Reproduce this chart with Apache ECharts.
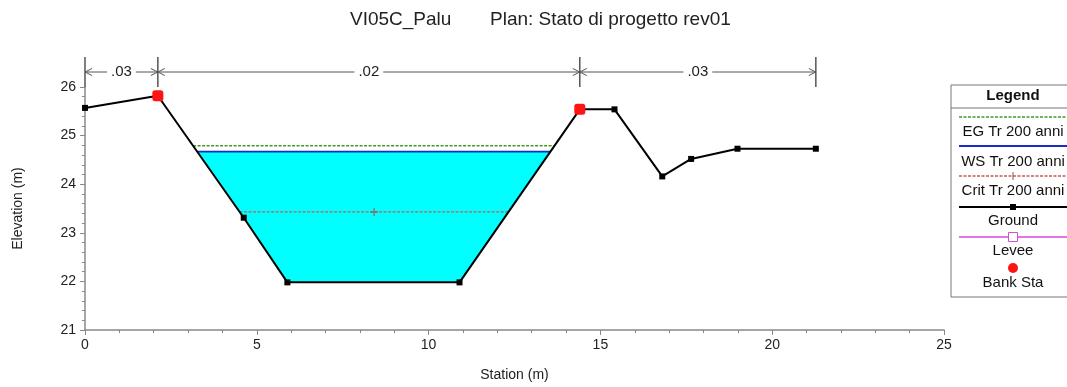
<!DOCTYPE html>
<html><head><meta charset="utf-8">
<script src="https://cdn.jsdelivr.net/npm/echarts@6.0.0/dist/echarts.min.js"></script>
<style>html,body{margin:0;padding:0;background:#fff}#c{width:1067px;height:387px}</style>
</head><body><div id="c"></div>
<script>
// ---- data ----
const groundStation = [0, 2.12, 4.62, 5.89, 10.90, 14.40, 15.41, 16.80, 17.64, 18.99, 21.27];
const groundElev    = [25.57, 25.82, 23.31, 21.98, 21.98, 25.54, 25.54, 24.16, 24.52, 24.73, 24.73];
const bankStation = [2.12, 14.40];
const bankElev    = [25.82, 25.54];
const wsElev = 24.67;
const egElev = 24.79;
const critElev = 23.43;
const nBreaks = [0, 2.12, 14.40, 21.27];
const nValues = ['.03', '.02', '.03'];
const legendTitle = 'Legend';
const legendItems = ['EG Tr 200 anni', 'WS Tr 200 anni', 'Crit Tr 200 anni', 'Ground', 'Levee', 'Bank Sta'];
const titleMain = 'VI05C_Palu';
const titlePlan = 'Plan: Stato di progetto rev01';
const xName = 'Station (m)';
const yName = 'Elevation (m)';

// ---- helpers ----
function crossings(level) {
  const out = [];
  for (let i = 0; i < groundStation.length - 1; i++) {
    const x0 = groundStation[i], y0 = groundElev[i], x1 = groundStation[i + 1], y1 = groundElev[i + 1];
    if ((y0 - level) * (y1 - level) < 0) {
      const x = x0 + (level - y0) / (y1 - y0) * (x1 - x0);
      if (x >= bankStation[0] && x <= bankStation[1]) out.push(x);
    }
  }
  return [out[0], out[out.length - 1]];
}
const ws = crossings(wsElev), eg = crossings(egElev), cr = crossings(critElev);
const waterPoly = [[ws[0], wsElev], [ws[1], wsElev]];
for (let i = groundStation.length - 1; i >= 0; i--) {
  if (groundStation[i] > ws[0] && groundStation[i] < ws[1]) waterPoly.push([groundStation[i], groundElev[i]]);
}
const FONT = '"Liberation Sans", Arial, sans-serif';
const plusPath = 'path://M3.5,0h1v8h-1z M0,3.5h8v1h-8z';
const EGC = '#3f9a2a', WSC = '#1a2cc8', CRC = '#c85a5a';

const chart = echarts.init(document.getElementById('c'), null, { renderer: 'canvas' });
chart.setOption({
  animation: false,
  backgroundColor: '#fff',
  textStyle: { fontFamily: FONT },
  grid: { left: 85, right: 123, top: 87, bottom: 55, containLabel: false },
  xAxis: {
    type: 'value', min: 0, max: 25, interval: 5,
    name: xName, nameLocation: 'middle', nameGap: 38,
    nameTextStyle: { fontSize: 14, color: '#222', fontFamily: FONT },
    axisLine: { lineStyle: { color: '#888', width: 1.5 } },
    axisTick: { length: 5, lineStyle: { color: '#888' } },
    minorTick: { show: true, splitNumber: 5, length: 3, lineStyle: { color: '#888' } },
    axisLabel: { fontSize: 14, color: '#222', margin: 8, fontFamily: FONT },
    splitLine: { show: false }
  },
  yAxis: {
    type: 'value', min: 21, max: 26, interval: 1,
    name: yName, nameLocation: 'middle', nameGap: 60,
    nameTextStyle: { fontSize: 14, color: '#222', fontFamily: FONT },
    axisLine: { show: true, lineStyle: { color: '#888', width: 1.5 } },
    axisTick: { show: true, length: 5, lineStyle: { color: '#888' } },
    minorTick: { show: true, splitNumber: 5, length: 3, lineStyle: { color: '#888' } },
    axisLabel: { fontSize: 14, color: '#222', margin: 9, fontFamily: FONT },
    splitLine: { show: false }
  },
  series: [
    {
      type: 'custom', name: 'water', z: 1, clip: false,
      data: [[ws[0], wsElev]],
      renderItem: function (params, api) {
        const pts = waterPoly.map(p => api.coord(p));
        return { type: 'polygon', shape: { points: pts }, style: { fill: '#00ffff', stroke: null } };
      }
    },
    {
      type: 'line', name: 'EG', z: 3, symbol: 'none',
      data: [[eg[0], egElev], [eg[1], egElev]],
      lineStyle: { color: EGC, width: 1.6, type: [3, 1.5] }
    },
    {
      type: 'line', name: 'WS', z: 3, symbol: 'none',
      data: [[ws[0], wsElev], [ws[1], wsElev]],
      lineStyle: { color: WSC, width: 1.8 }
    },
    {
      type: 'line', name: 'Crit', z: 3, symbol: 'none',
      data: [[cr[0], critElev], { value: [(cr[0] + cr[1]) / 2, critElev], symbol: plusPath, symbolSize: 8 }, [cr[1], critElev]],
      itemStyle: { color: '#a05050', opacity: 1 },
      lineStyle: { color: CRC, width: 1.4, type: [3, 1.5] }
    },
    {
      type: 'line', name: 'Ground', z: 4, symbol: 'rect', symbolSize: 6, showAllSymbol: true,
      data: groundStation.map((s, i) => [s, groundElev[i]]),
      itemStyle: { color: '#000', opacity: 1 },
      lineStyle: { color: '#000', width: 2 }
    },
    {
      type: 'scatter', name: 'Bank Sta', z: 5, symbol: 'roundRect', symbolSize: 11,
      data: bankStation.map((s, i) => [s, bankElev[i]]),
      itemStyle: { color: '#ff1414', opacity: 1 }
    }
  ]
});

// ---- graphics: title, Manning's n annotations, legend ----
const g = [];
g.push({ type: 'text', left: 350, top: 10, style: { text: titleMain, font: '19px ' + FONT, fill: '#222' } });
g.push({ type: 'text', left: 490, top: 10, style: { text: titlePlan, font: '19px ' + FONT, fill: '#222' } });

const topPx = chart.convertToPixel({ gridIndex: 0 }, [0, 26])[1];
const ay = topPx - 15;
const aCol = '#555';
function seg(x1, y1, x2, y2, w) {
  g.push({ type: 'line', shape: { x1, y1, x2, y2 }, style: { stroke: aCol, lineWidth: w || 1 }, z: 10 });
}
nBreaks.forEach(b => {
  const px = chart.convertToPixel({ gridIndex: 0 }, [b, 26])[0];
  seg(px, ay - 15, px, ay + 15, 1.5);
});
nValues.forEach((v, i) => {
  const x1 = chart.convertToPixel({ gridIndex: 0 }, [nBreaks[i], 26])[0];
  const x2 = chart.convertToPixel({ gridIndex: 0 }, [nBreaks[i + 1], 26])[0];
  seg(x1, ay, x2, ay, 1);
  seg(x1, ay, x1 + 7, ay - 3.5); seg(x1, ay, x1 + 7, ay + 3.5);
  seg(x2, ay, x2 - 7, ay - 3.5); seg(x2, ay, x2 - 7, ay + 3.5);
  g.push({ type: 'text', x: (x1 + x2) / 2, y: ay, z: 11,
    style: { text: v, font: '15px ' + FONT, fill: '#222', align: 'center', verticalAlign: 'middle',
      backgroundColor: '#fff', padding: [0, 4] } });
});

// legend box
const LX = 951, LY = 85, LW = 130, LH = 212, CX = 1013;
g.push({ type: 'rect', shape: { x: LX, y: LY, width: LW, height: LH }, style: { fill: '#fff', stroke: '#777', lineWidth: 1 }, z: 20 });
g.push({ type: 'line', shape: { x1: LX, y1: 108, x2: LX + LW, y2: 108 }, style: { stroke: '#777', lineWidth: 1 }, z: 21 });
function ltext(t, y, bold) {
  g.push({ type: 'text', x: CX, y: y, z: 22, style: { text: t, font: (bold ? 'bold ' : '') + '15px ' + FONT, fill: '#111', align: 'center', verticalAlign: 'middle' } });
}
function lline(y, color, dash, w) {
  g.push({ type: 'line', shape: { x1: LX + 8, y1: y, x2: LX + LW, y2: y }, style: { stroke: color, lineWidth: w || 1.5, lineDash: dash || null }, z: 22 });
}
ltext(legendTitle, 96, true);
lline(117, EGC, [3, 1.5]); ltext(legendItems[0], 132);
lline(146, WSC, null, 2); ltext(legendItems[1], 162);
lline(176, CRC, [3, 1.5]);
g.push({ type: 'line', shape: { x1: CX, y1: 172, x2: CX, y2: 180 }, style: { stroke: '#a05050', lineWidth: 1 }, z: 23 });
ltext(legendItems[2], 191);
lline(207, '#000', null, 2);
g.push({ type: 'rect', shape: { x: CX - 3, y: 204, width: 6, height: 6 }, style: { fill: '#000' }, z: 23 });
ltext(legendItems[3], 221);
lline(237, '#dd44dd');
g.push({ type: 'rect', shape: { x: CX - 4.5, y: 232.5, width: 9, height: 9 }, style: { fill: '#fff', stroke: '#cc55cc', lineWidth: 1 }, z: 23 });
ltext(legendItems[4], 251);
g.push({ type: 'circle', shape: { cx: CX, cy: 268, r: 5 }, style: { fill: '#ff1414' }, z: 23 });
ltext(legendItems[5], 283);

chart.setOption({ graphic: g });
</script>
</body></html>
